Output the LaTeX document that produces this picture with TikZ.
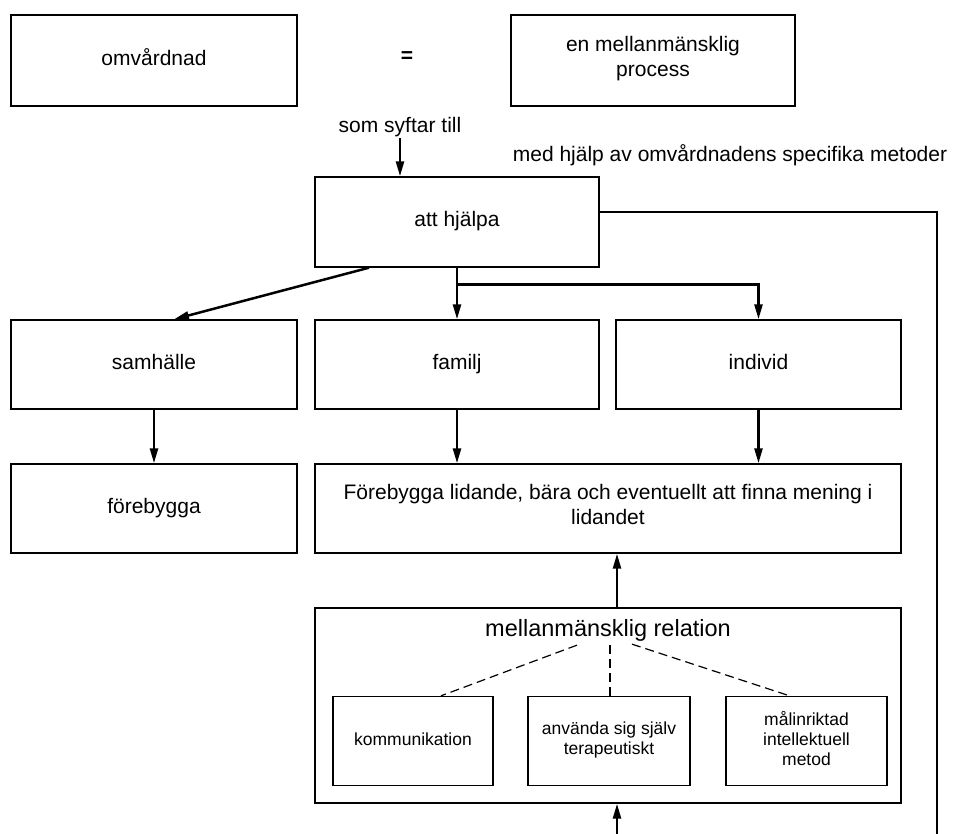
\documentclass[tikz,border=0pt]{standalone}
\usepackage{fontspec}
\setmainfont{Liberation Sans}
\usetikzlibrary{arrows.meta}

\tikzset{
	box/.style={draw, line width=1.4pt, inner sep=2pt, align=center, font=\fontsize{21}{25}\selectfont,
		execute at begin node=\strut, execute at end node=\strut},
	smallbox/.style={box, font=\fontsize{17.5}{20}\selectfont},
	textnode/.style={inner sep=1pt, align=center, font=\fontsize{21}{25}\selectfont},
	arrow/.style={line width=2.5pt, -{Triangle[length=15pt,width=8pt]}},
	link/.style={line width=2.5pt},
	dashlink/.style={line width=1.2pt, dash pattern=on 9pt off 5pt},
}

\begin{document}
\begin{tikzpicture}[x=1pt, y=-1pt]
	\useasboundingbox (0,0) rectangle (959,834);
	
	% Top row
	\node[box, minimum width=286pt, minimum height=91pt] (omv) at (154,60.5) {omvårdnad};
	\node[textnode] (eq) at (407,57) {\textbf{=}};
	\node[box, minimum width=284pt, minimum height=91pt] (process) at (653,60.5) {en mellanmänsklig\\process};
	
	% Aim and methods
	\node[textnode] (syftar) at (400,127) {som syftar till};
	\node[textnode] (metoder) at (730,155) {med hjälp av omvårdnadens specifika metoder};
	\node[box, minimum width=284pt, minimum height=90pt] (hjalpa) at (457,222) {att hjälpa};
	
	% Who is helped
	\node[box, minimum width=286pt, minimum height=89pt] (samhalle) at (154,364.5) {samhälle};
	\node[box, minimum width=284pt, minimum height=89pt] (familj) at (457,364.5) {familj};
	\node[box, minimum width=285pt, minimum height=89pt] (individ) at (758.5,364.5) {individ};
	
	% Goals
	\node[box, minimum width=286pt, minimum height=89pt] (forebygga) at (154,508.5) {förebygga};
	\node[box, minimum width=586pt, minimum height=89pt] (lidande) at (608,508.5) {Förebygga lidande, bära och eventuellt att finna mening i\\lidandet};
	
	% Interpersonal relation and its parts
	\node[draw, line width=1.4pt, minimum width=586pt, minimum height=195pt] (relation) at (608,705.5) {};
	\node[textnode, font=\fontsize{23.5}{27}\selectfont] (reltitle) at (608,630) {mellanmänsklig relation};
	\node[smallbox, minimum width=160pt, minimum height=89pt] (komm) at (413,741) {kommunikation};
	\node[smallbox, minimum width=162pt, minimum height=89pt] (anvanda) at (609,741) {använda sig själv\\terapeutiskt};
	\node[smallbox, minimum width=161pt, minimum height=89pt] (malin) at (806.5,741) {målinriktad\\intellektuell\\metod};
	
	% Free ends at the lower edge
	\coordinate (rightend) at (937,834);
	\coordinate (foot) at (617,834);
	
	% Connections
	\draw[arrow] (syftar.south) -- (syftar.south |- hjalpa.north);
	\draw[link] ([yshift=10pt]hjalpa.east) -| (rightend);
	\draw[arrow] ([xshift=-88pt]hjalpa.south) -- ([xshift=20pt]samhalle.north);
	\draw[arrow] (hjalpa.south) -- (familj.north);
	\draw[arrow] (hjalpa.south) -- ++(0,17) -| (individ.north);
	\draw[arrow] (samhalle) -- (forebygga);
	\draw[arrow] (familj) -- (familj |- lidande.north);
	\draw[arrow] (individ) -- (individ |- lidande.north);
	\draw[arrow] ([xshift=9pt]relation.north) -- ([xshift=9pt]lidande.south);
	\draw[arrow] (foot) -- (foot |- relation.south);
	\draw[dashlink] ([xshift=-31pt,yshift=-3pt]reltitle.south) -- ([xshift=28pt]komm.north);
	\draw[dashlink] ([xshift=2pt,yshift=-3pt]reltitle.south) -- ([xshift=1pt]anvanda.north);
	\draw[dashlink] ([xshift=24pt,yshift=-2pt]reltitle.south) -- ([xshift=-17pt]malin.north);
\end{tikzpicture}
\end{document}
